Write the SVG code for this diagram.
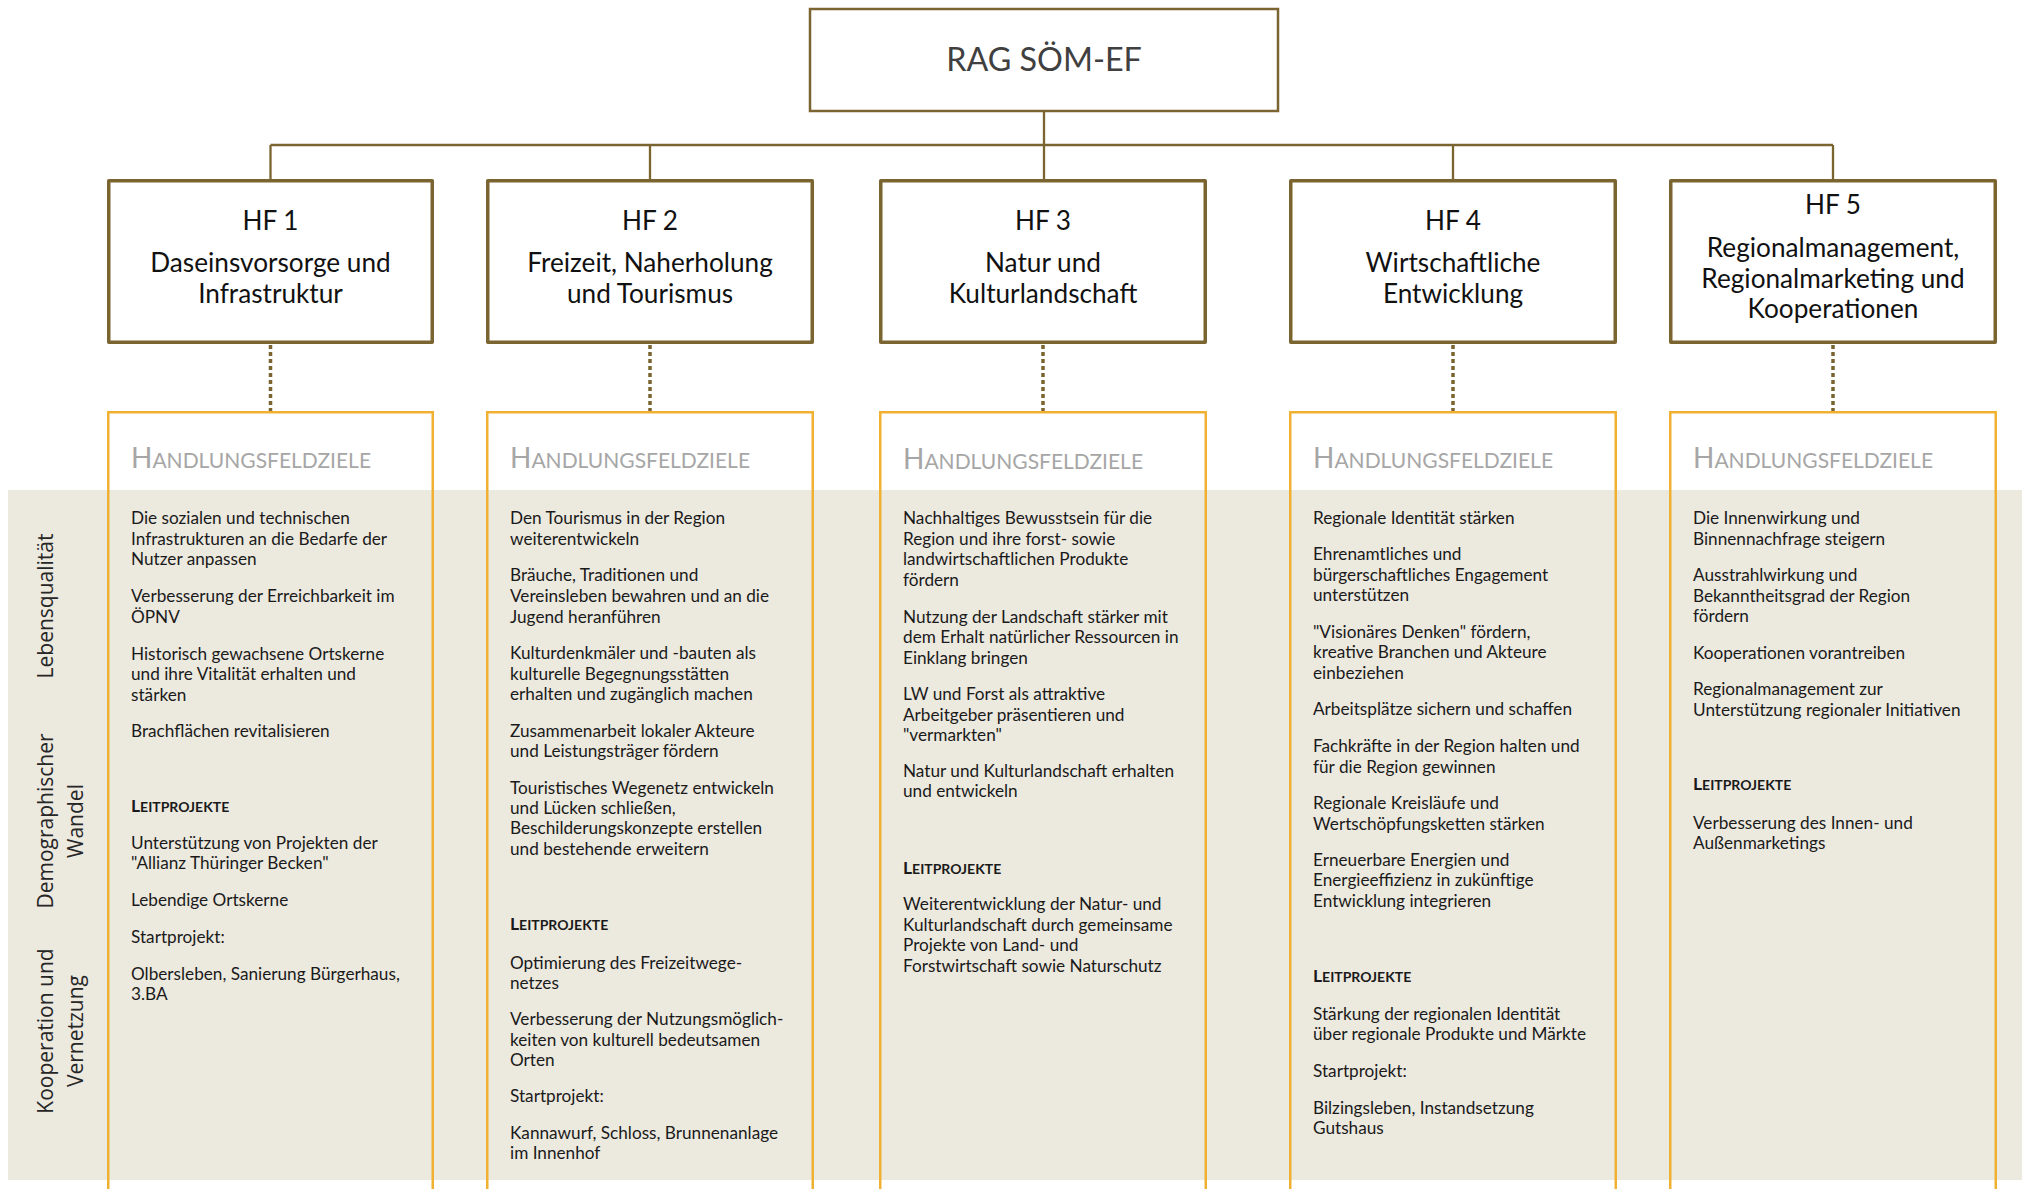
<svg xmlns="http://www.w3.org/2000/svg" width="2026" height="1189" viewBox="0 0 2026 1189">
<style>
.bg{fill:#ffffff}
.band{fill:#ECE9DF}
.hf{fill:#ffffff;stroke:#7A6430;stroke-width:3.5;stroke-linejoin:round}
.root{fill:#ffffff;stroke:#7A6430;stroke-width:2.5}
.goal{fill:none;stroke:#F0B132;stroke-width:2.5}
.conn{fill:none;stroke:#7A6430;stroke-width:2.3}
.dot{fill:none;stroke:#7A6430;stroke-width:3.5;stroke-dasharray:4 3}
text{font-family:Lato,"Liberation Sans",sans-serif}
.rt{font-size:32.3px;fill:#404040;text-anchor:middle}
.tt{font-size:26.2px;fill:#111111;text-anchor:middle}
.hz{font-size:28px;fill:#A6A6A6}
.hz tspan{font-size:21px}
.bd{font-size:17.2px;fill:#1a1a1a}
.lp{font-size:17.5px;font-weight:bold;fill:#1a1a1a}
.lp tspan{font-size:14px}
.rl{font-family:"Open Sans","DejaVu Sans",sans-serif;font-size:21px;fill:#262626;text-anchor:middle}
</style>
<rect class="bg" x="0" y="0" width="2026" height="1189"/>
<rect class="band" x="8" y="490" width="2014" height="690"/>

<g id="row-labels">
<text class="rl" transform="translate(53,606) rotate(-90)">Lebensqualität</text>
<text class="rl" transform="translate(53,821) rotate(-90)">Demographischer</text>
<text class="rl" transform="translate(83,821) rotate(-90)">Wandel</text>
<text class="rl" transform="translate(53,1031) rotate(-90)">Kooperation und</text>
<text class="rl" transform="translate(83,1031) rotate(-90)">Vernetzung</text>
</g>

<g id="connectors">
<path class="conn" d="M1044,112 V145 M270.5,145 H1833 M270.5,145 V179 M650,145 V179 M1044,145 V179 M1453,145 V179 M1833,145 V179"/>
<path class="dot" d="M270.5,345 V411 M650,345 V411 M1043,345 V411 M1453,345 V411 M1833,345 V411"/>
</g>

<g id="rag">
<rect class="root" x="810" y="9" width="468" height="102"/>
<text class="rt" x="1044" y="71">RAG SÖM-EF</text>
</g>

<g id="hf1">
<rect class="hf" x="108.75" y="180.75" width="323.5" height="161.5"/>
<text class="tt" x="270.5" y="230">HF 1</text>
<text class="tt" x="270.5" y="272">Daseinsvorsorge und</text>
<text class="tt" x="270.5" y="303">Infrastruktur</text>
</g>
<g id="hf2">
<rect class="hf" x="487.75" y="180.75" width="324.5" height="161.5"/>
<text class="tt" x="650" y="230">HF 2</text>
<text class="tt" x="650" y="272">Freizeit, Naherholung</text>
<text class="tt" x="650" y="303">und Tourismus</text>
</g>
<g id="hf3">
<rect class="hf" x="880.75" y="180.75" width="324.5" height="161.5"/>
<text class="tt" x="1043" y="230">HF 3</text>
<text class="tt" x="1043" y="272">Natur und</text>
<text class="tt" x="1043" y="303">Kulturlandschaft</text>
</g>
<g id="hf4">
<rect class="hf" x="1290.75" y="180.75" width="324.5" height="161.5"/>
<text class="tt" x="1453" y="230">HF 4</text>
<text class="tt" x="1453" y="272">Wirtschaftliche</text>
<text class="tt" x="1453" y="303">Entwicklung</text>
</g>
<g id="hf5">
<rect class="hf" x="1670.75" y="180.75" width="324.5" height="161.5"/>
<text class="tt" x="1833" y="214">HF 5</text>
<text class="tt" x="1833" y="257">Regionalmanagement,</text>
<text class="tt" x="1833" y="287.5">Regionalmarketing und</text>
<text class="tt" x="1833" y="318">Kooperationen</text>
</g>

<g id="ziele1">
<rect class="goal" x="108.25" y="412.25" width="324.5" height="800"/>
<text class="hz" x="131" y="467.7">H<tspan>ANDLUNGSFELDZIELE</tspan></text>
<text class="bd" x="131" y="524">Die sozialen und technischen</text>
<text class="bd" x="131" y="544.7">Infrastrukturen an die Bedarfe der</text>
<text class="bd" x="131" y="565.4">Nutzer anpassen</text>
<text class="bd" x="131" y="602.2">Verbesserung der Erreichbarkeit im</text>
<text class="bd" x="131" y="622.9">ÖPNV</text>
<text class="bd" x="131" y="659.6">Historisch gewachsene Ortskerne</text>
<text class="bd" x="131" y="680.3">und ihre Vitalität erhalten und</text>
<text class="bd" x="131" y="700.8">stärken</text>
<text class="bd" x="131" y="737.2">Brachflächen revitalisieren</text>
<text class="lp" x="131" y="812">L<tspan>EITPROJEKTE</tspan></text>
<text class="bd" x="131" y="848.6">Unterstützung von Projekten der</text>
<text class="bd" x="131" y="869.3">"Allianz Thüringer Becken"</text>
<text class="bd" x="131" y="906.3">Lebendige Ortskerne</text>
<text class="bd" x="131" y="942.9">Startprojekt:</text>
<text class="bd" x="131" y="979.6">Olbersleben, Sanierung Bürgerhaus,</text>
<text class="bd" x="131" y="1000.3">3.BA</text>
</g>

<g id="ziele2">
<rect class="goal" x="487.25" y="412.25" width="325.5" height="800"/>
<text class="hz" x="510" y="467.7">H<tspan>ANDLUNGSFELDZIELE</tspan></text>
<text class="bd" x="510" y="524">Den Tourismus in der Region</text>
<text class="bd" x="510" y="544.7">weiterentwickeln</text>
<text class="bd" x="510" y="581.2">Bräuche, Traditionen und</text>
<text class="bd" x="510" y="601.9">Vereinsleben bewahren und an die</text>
<text class="bd" x="510" y="622.5">Jugend heranführen</text>
<text class="bd" x="510" y="659">Kulturdenkmäler und -bauten als</text>
<text class="bd" x="510" y="679.6">kulturelle Begegnungsstätten</text>
<text class="bd" x="510" y="700">erhalten und zugänglich machen</text>
<text class="bd" x="510" y="736.5">Zusammenarbeit lokaler Akteure</text>
<text class="bd" x="510" y="757.1">und Leistungsträger fördern</text>
<text class="bd" x="510" y="793.7">Touristisches Wegenetz entwickeln</text>
<text class="bd" x="510" y="814.1">und Lücken schließen,</text>
<text class="bd" x="510" y="834.4">Beschilderungskonzepte erstellen</text>
<text class="bd" x="510" y="854.9">und bestehende erweitern</text>
<text class="lp" x="510" y="930.3">L<tspan>EITPROJEKTE</tspan></text>
<text class="bd" x="510" y="968.6">Optimierung des Freizeitwege-</text>
<text class="bd" x="510" y="988.9">netzes</text>
<text class="bd" x="510" y="1025.3">Verbesserung der Nutzungsmöglich-</text>
<text class="bd" x="510" y="1045.8">keiten von kulturell bedeutsamen</text>
<text class="bd" x="510" y="1066.3">Orten</text>
<text class="bd" x="510" y="1102.2">Startprojekt:</text>
<text class="bd" x="510" y="1138.6">Kannawurf, Schloss, Brunnenanlage</text>
<text class="bd" x="510" y="1158.9">im Innenhof</text>
</g>

<g id="ziele3">
<rect class="goal" x="880.25" y="412.25" width="325.5" height="800"/>
<text class="hz" x="903" y="468.5">H<tspan>ANDLUNGSFELDZIELE</tspan></text>
<text class="bd" x="903" y="524.4">Nachhaltiges Bewusstsein für die</text>
<text class="bd" x="903" y="544.9">Region und ihre forst- sowie</text>
<text class="bd" x="903" y="565.4">landwirtschaftlichen Produkte</text>
<text class="bd" x="903" y="585.9">fördern</text>
<text class="bd" x="903" y="622.9">Nutzung der Landschaft stärker mit</text>
<text class="bd" x="903" y="643.4">dem Erhalt natürlicher Ressourcen in</text>
<text class="bd" x="903" y="663.9">Einklang bringen</text>
<text class="bd" x="903" y="700.4">LW und Forst als attraktive</text>
<text class="bd" x="903" y="720.7">Arbeitgeber präsentieren und</text>
<text class="bd" x="903" y="741">"vermarkten"</text>
<text class="bd" x="903" y="777.1">Natur und Kulturlandschaft erhalten</text>
<text class="bd" x="903" y="797.4">und entwickeln</text>
<text class="lp" x="903" y="873.6">L<tspan>EITPROJEKTE</tspan></text>
<text class="bd" x="903" y="910.4">Weiterentwicklung der Natur- und</text>
<text class="bd" x="903" y="931">Kulturlandschaft durch gemeinsame</text>
<text class="bd" x="903" y="951.4">Projekte von Land- und</text>
<text class="bd" x="903" y="972">Forstwirtschaft sowie Naturschutz</text>
</g>

<g id="ziele4">
<rect class="goal" x="1290.25" y="412.25" width="325.5" height="800"/>
<text class="hz" x="1313" y="467.7">H<tspan>ANDLUNGSFELDZIELE</tspan></text>
<text class="bd" x="1313" y="524">Regionale Identität stärken</text>
<text class="bd" x="1313" y="560.4">Ehrenamtliches und</text>
<text class="bd" x="1313" y="580.7">bürgerschaftliches Engagement</text>
<text class="bd" x="1313" y="601">unterstützen</text>
<text class="bd" x="1313" y="637.7">"Visionäres Denken" fördern,</text>
<text class="bd" x="1313" y="658.4">kreative Branchen und Akteure</text>
<text class="bd" x="1313" y="678.9">einbeziehen</text>
<text class="bd" x="1313" y="715.4">Arbeitsplätze sichern und schaffen</text>
<text class="bd" x="1313" y="752.1">Fachkräfte in der Region halten und</text>
<text class="bd" x="1313" y="772.7">für die Region gewinnen</text>
<text class="bd" x="1313" y="808.9">Regionale Kreisläufe und</text>
<text class="bd" x="1313" y="829.6">Wertschöpfungsketten stärken</text>
<text class="bd" x="1313" y="866.1">Erneuerbare Energien und</text>
<text class="bd" x="1313" y="886.4">Energieeffizienz in zukünftige</text>
<text class="bd" x="1313" y="906.7">Entwicklung integrieren</text>
<text class="lp" x="1313" y="982">L<tspan>EITPROJEKTE</tspan></text>
<text class="bd" x="1313" y="1019.7">Stärkung der regionalen Identität</text>
<text class="bd" x="1313" y="1040.4">über regionale Produkte und Märkte</text>
<text class="bd" x="1313" y="1077.1">Startprojekt:</text>
<text class="bd" x="1313" y="1113.7">Bilzingsleben, Instandsetzung</text>
<text class="bd" x="1313" y="1134">Gutshaus</text>
</g>

<g id="ziele5">
<rect class="goal" x="1670.25" y="412.25" width="325.5" height="800"/>
<text class="hz" x="1693" y="467.7">H<tspan>ANDLUNGSFELDZIELE</tspan></text>
<text class="bd" x="1693" y="524">Die Innenwirkung und</text>
<text class="bd" x="1693" y="544.6">Binnennachfrage steigern</text>
<text class="bd" x="1693" y="581.2">Ausstrahlwirkung und</text>
<text class="bd" x="1693" y="601.9">Bekanntheitsgrad der Region</text>
<text class="bd" x="1693" y="622.4">fördern</text>
<text class="bd" x="1693" y="658.8">Kooperationen vorantreiben</text>
<text class="bd" x="1693" y="695.4">Regionalmanagement zur</text>
<text class="bd" x="1693" y="715.8">Unterstützung regionaler Initiativen</text>
<text class="lp" x="1693" y="790.3">L<tspan>EITPROJEKTE</tspan></text>
<text class="bd" x="1693" y="828.7">Verbesserung des Innen- und</text>
<text class="bd" x="1693" y="849">Außenmarketings</text>
</g>
</svg>
